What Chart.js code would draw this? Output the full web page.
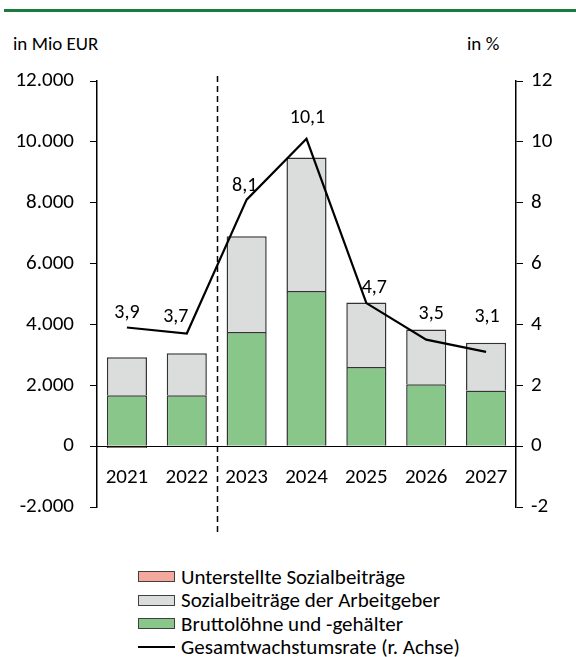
<!DOCTYPE html>
<html><head><meta charset="utf-8">
<script src="https://cdn.jsdelivr.net/npm/chart.js@4"></script>
<style>
html,body{margin:0;padding:0;background:#fff;}
body{width:576px;height:657px;position:relative;overflow:hidden;font-family:Carlito,Lato,sans-serif;color:#000;}
#topline{position:absolute;left:4px;top:9px;width:572px;height:3px;background:#1B7A3D;}
.unit{position:absolute;top:32px;font-size:19px;}
#wrap{position:absolute;left:0;top:0;width:576px;height:560px;}
#legend{position:absolute;left:138px;top:565px;font-size:21px;}
.row{height:23.5px;display:flex;align-items:center;}
.sw{width:35px;height:9px;border:1px solid #404040;margin-right:6px;}
.ln{width:37px;height:2px;background:#000;margin-right:6px;}
</style></head>
<body>
<div id="topline"></div>
<div class="unit" style="left:13px">in Mio EUR</div>
<div class="unit" style="left:467px">in %</div>
<div id="wrap"><canvas id="c" width="576" height="560"></canvas></div>
<div id="legend"></div>
<script>
const categories = ['2021','2022','2023','2024','2025','2026','2027'];
const unterstellte = [-60, -30, 0, 0, 0, 0, 0];
const bruttoloehne = [1670, 1670, 3750, 5100, 2600, 2030, 1830];
const sozialbeitraege = [1250, 1380, 3150, 4390, 2120, 1800, 1570];
const wachstumsrate = [3.9, 3.7, 8.1, 10.1, 4.7, 3.5, 3.1];
const leftTicks = [-2000, 0, 2000, 4000, 6000, 8000, 10000, 12000];
const rightTicks = [-2, 0, 2, 4, 6, 8, 10, 12];
const seriesNames = ['Unterstellte Sozialbeiträge','Sozialbeiträge der Arbeitgeber','Bruttolöhne und -gehälter','Gesamtwachstumsrate (r. Achse)'];
const colors = {pink:'#F4A99C', gray:'#DADDDB', green:'#88C68A', border:'#333333'};
// label nudges (px) relative to points, as placed in the original
const labelOffsets = [[0,-14],[-11,-17],[-2,-14],[1,-21],[8,-15],[5,-26],[1,-35]];

const FONT = 'Carlito, Lato, sans-serif';
const fmt = v => {
  const s = Math.abs(v).toString().replace(/\B(?=(\d{3})+(?!\d))/g, '.');
  return (v < 0 ? '-' : '') + s;
};

const overlay = {
  id: 'overlay',
  afterDatasetsDraw(chart) {
    const ctx = chart.ctx, x = chart.scales.x;
    const xm = (x.getPixelForValue(1) + x.getPixelForValue(2)) / 2;
    ctx.save();
    ctx.strokeStyle = '#000'; ctx.lineWidth = 1.5; ctx.setLineDash([6, 4]);
    ctx.beginPath(); ctx.moveTo(Math.round(xm) + 0.5, 76); ctx.lineTo(Math.round(xm) + 0.5, 536); ctx.stroke();
    ctx.restore();
    const meta = chart.getDatasetMeta(3);
    ctx.save();
    ctx.font = '20px ' + FONT; ctx.fillStyle = '#000';
    ctx.textAlign = 'center'; ctx.textBaseline = 'middle';
    meta.data.forEach((pt, i) => {
      const o = labelOffsets[i];
      ctx.fillText(wachstumsrate[i].toFixed(1).replace('.', ','), pt.x + o[0], pt.y + o[1]);
    });
    ctx.restore();
  }
};

new Chart(document.getElementById('c'), {
  data: {
    labels: categories,
    datasets: [
      {type:'bar', label: seriesNames[0], data: unterstellte, backgroundColor: colors.pink, borderColor: colors.border, borderWidth: 1, yAxisID:'y', order: 2},
      {type:'bar', label: seriesNames[2], data: bruttoloehne, backgroundColor: colors.green, borderColor: colors.border, borderWidth: 1.5, yAxisID:'y', order: 2},
      {type:'bar', label: seriesNames[1], data: sozialbeitraege, backgroundColor: colors.gray, borderColor: colors.border, borderWidth: 1.5, yAxisID:'y', order: 2},
      {type:'line', label: seriesNames[3], data: wachstumsrate, borderColor: '#000', borderWidth: 2.2, pointRadius: 0, tension: 0, yAxisID:'y1', order: 1}
    ]
  },
  options: {
    responsive: false, animation: false,
    layout: {padding: {top: 81, bottom: 53, left: 0, right: 0}},
    datasets: {bar: {barPercentage: 0.67, categoryPercentage: 1}},
    plugins: {legend: {display: false}, tooltip: {enabled: false}},
    scales: {
      x: {
        stacked: true, position: {y: 0}, offset: true,
        grid: {display: false, drawTicks: false},
        border: {display: true, color: '#000', width: 1},
        ticks: {font: {family: FONT, size: 21}, color: '#000', padding: 19, maxRotation: 0}
      },
      y: {
        stacked: true, position: 'left', min: -2000, max: 12000,
        afterBuildTicks: s => { s.ticks = leftTicks.map(v => ({value: v})); },
        afterFit: s => { s.width = 97; },
        grid: {drawOnChartArea: false, drawTicks: true, tickLength: 7, color: '#000', lineWidth: 1},
        border: {display: true, color: '#000', width: 1.5},
        ticks: {font: {family: FONT, size: 21}, color: '#000', padding: 16, callback: v => fmt(v)}
      },
      y1: {
        stacked: false, position: 'right', min: -2, max: 12,
        afterBuildTicks: s => { s.ticks = rightTicks.map(v => ({value: v})); },
        afterFit: s => { s.width = 60; },
        grid: {drawOnChartArea: false, drawTicks: true, tickLength: 7, color: '#000', lineWidth: 1},
        border: {display: true, color: '#000', width: 1.5},
        ticks: {font: {family: FONT, size: 21}, color: '#000', padding: 8, callback: v => String(v)}
      }
    }
  },
  plugins: [overlay]
});

const lg = document.getElementById('legend');
const legendItems = [
  {name: seriesNames[0], c: colors.pink},
  {name: seriesNames[1], c: colors.gray},
  {name: seriesNames[2], c: colors.green},
  {name: seriesNames[3], line: true}
];
legendItems.forEach(it => {
  const r = document.createElement('div'); r.className = 'row';
  const m = document.createElement('div');
  if (it.line) m.className = 'ln'; else { m.className = 'sw'; m.style.background = it.c; }
  const t = document.createElement('span'); t.textContent = it.name;
  r.appendChild(m); r.appendChild(t); lg.appendChild(r);
});
</script>
</body></html>
